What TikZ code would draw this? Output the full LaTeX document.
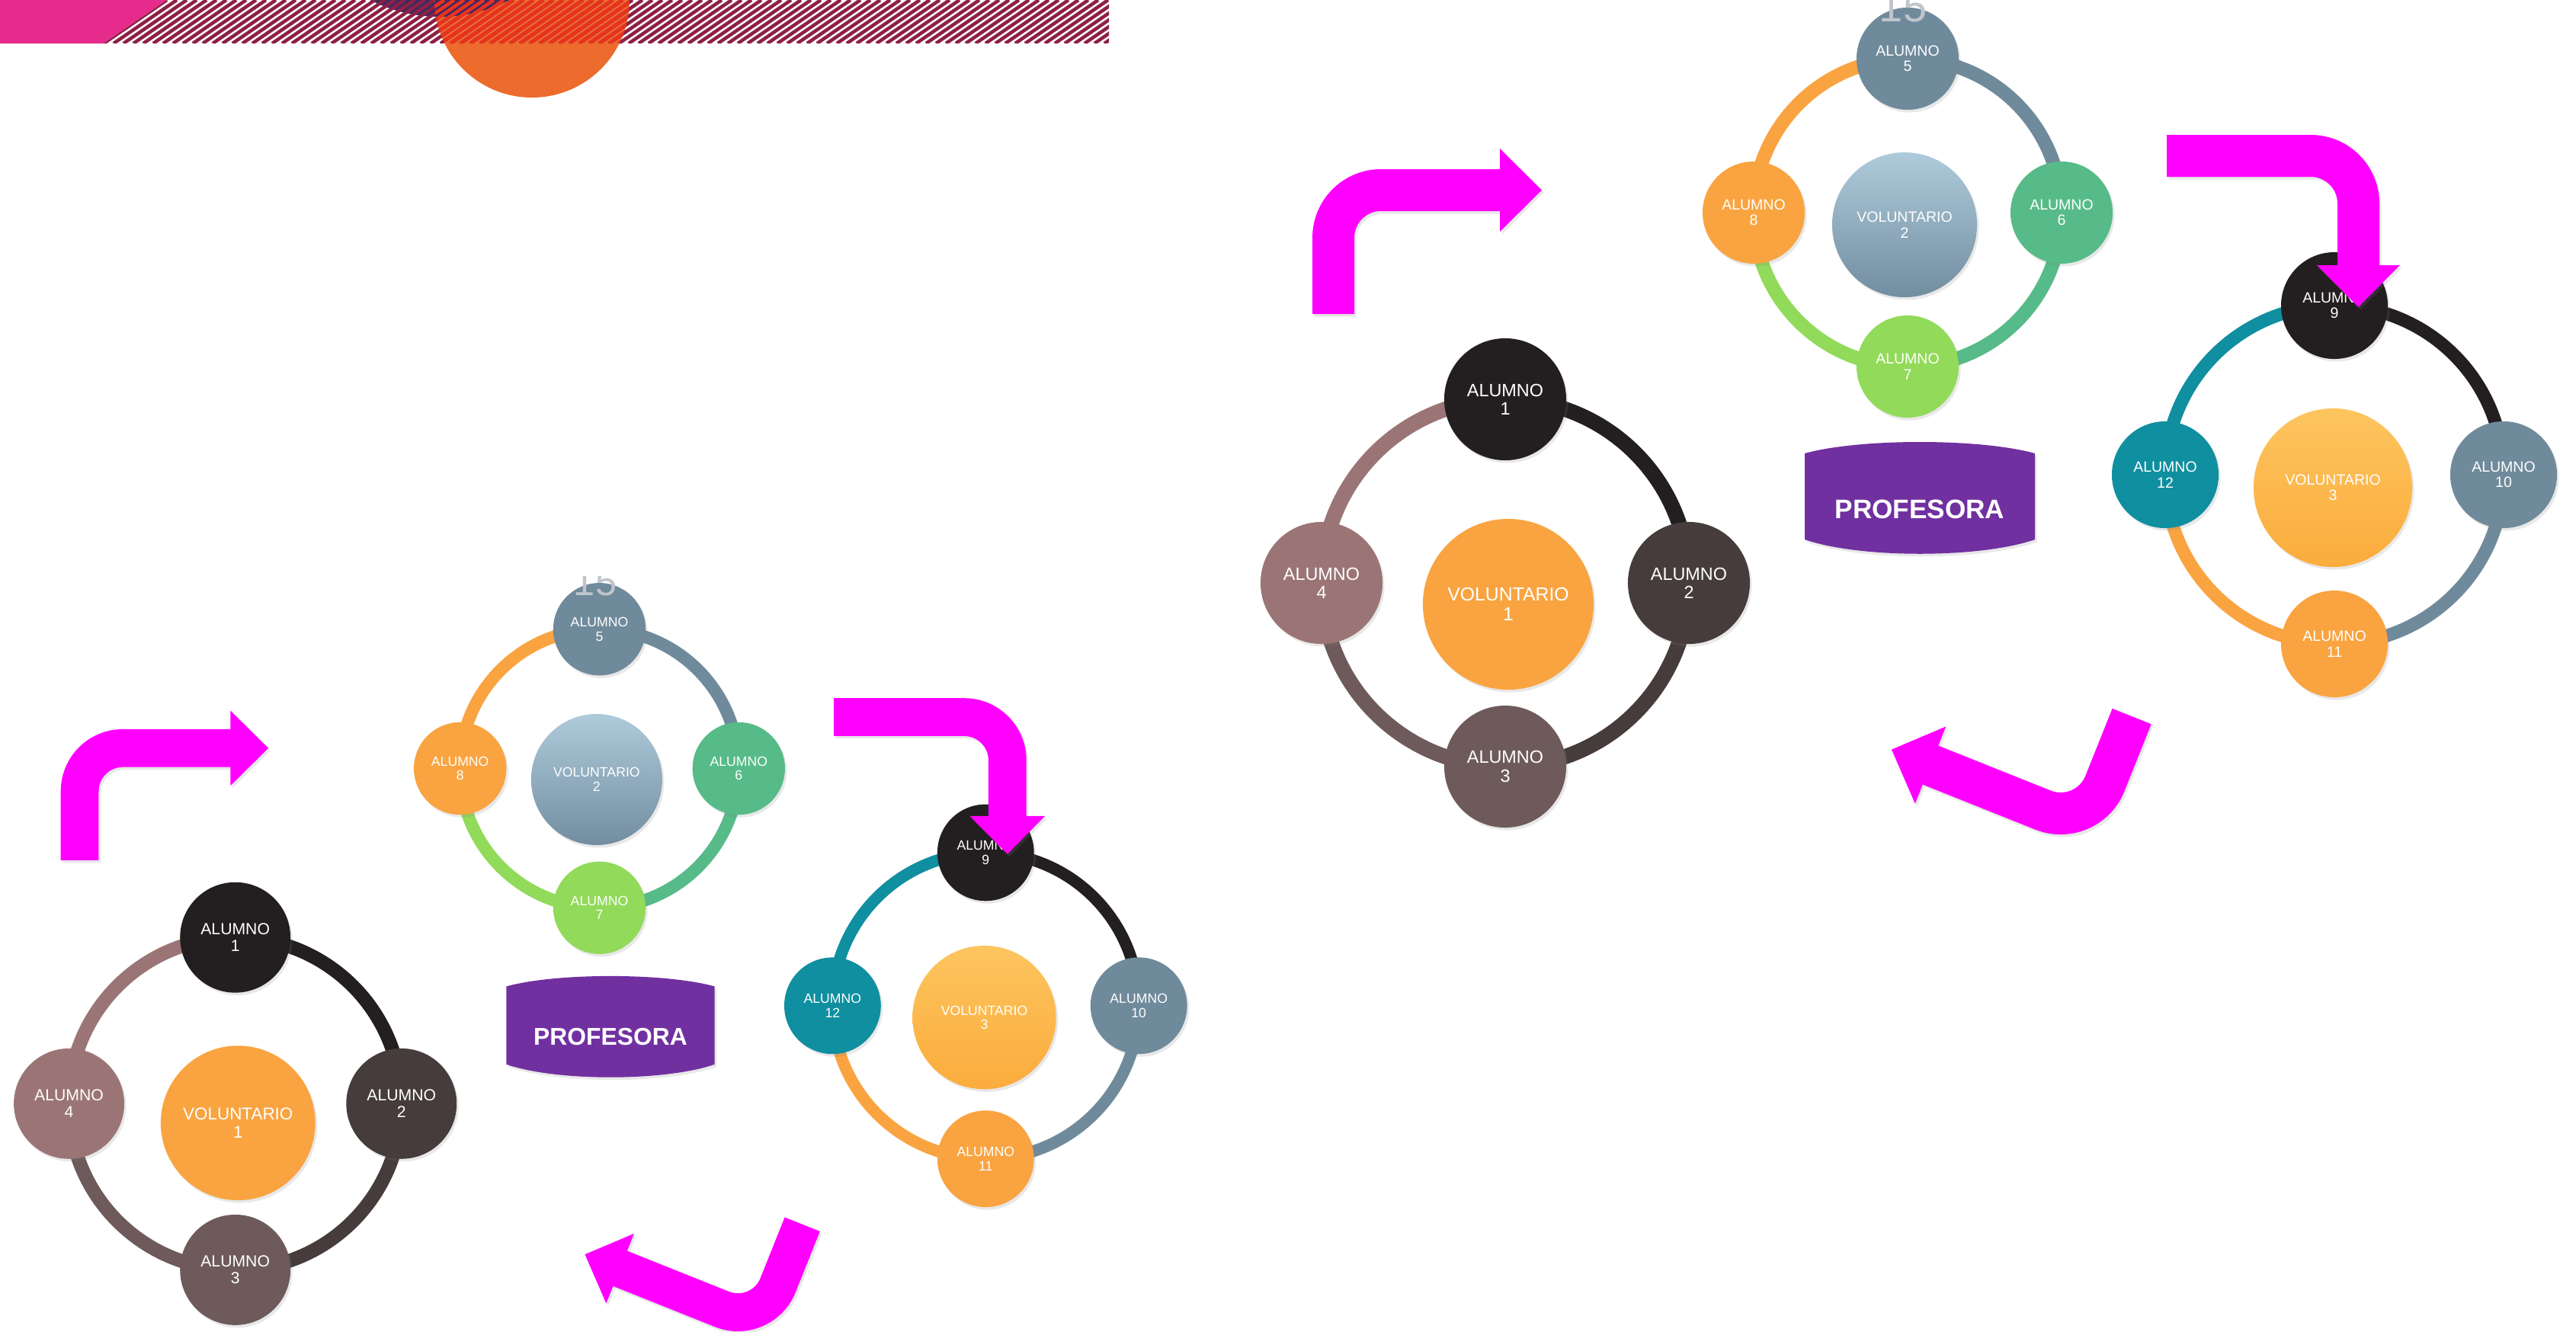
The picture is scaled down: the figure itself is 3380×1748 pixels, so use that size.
\documentclass[tikz,border=0pt]{standalone}
\usepackage{fontspec}
\setmainfont{Liberation Sans}
\usetikzlibrary{shadows}
\pgfdeclarelayer{background}
\pgfdeclarelayer{canvas}
\pgfsetlayers{canvas,background,main}

\definecolor{cBlack}{HTML}{231F20}
\definecolor{cDark}{HTML}{463C3C}
\definecolor{cTaupe}{HTML}{6E5A5A}
\definecolor{cRose}{HTML}{9B7575}
\definecolor{cOrange}{HTML}{F9A441}
\definecolor{cSlate}{HTML}{6F8A9B}
\definecolor{cGreen}{HTML}{56BB88}
\definecolor{cLime}{HTML}{92DA5A}
\definecolor{cTeal}{HTML}{0F8FA0}
\definecolor{vTwoT}{HTML}{AECBDB}
\definecolor{vTwoB}{HTML}{728DA0}
\definecolor{vThreeT}{HTML}{FDC55F}
\definecolor{vThreeB}{HTML}{FBAC3C}
\definecolor{cMag}{HTML}{FF00FF}
\definecolor{cProf}{HTML}{7130A0}
\definecolor{cPink}{HTML}{E52B8B}
\definecolor{cStripe}{HTML}{8E1F45}
\definecolor{cStripeRed}{HTML}{E8321F}
\definecolor{cDecoOr}{HTML}{EC6B2D}
\definecolor{cNavy}{HTML}{3A2B62}
\definecolor{cNum}{HTML}{BFC5CB}

\def\gsc{1}
\tikzset{
  basenode/.style={circle, inner sep=0pt, text=white, align=center},
  shad/.style={drop shadow={shadow xshift=0.025cm, shadow yshift=-0.035cm, opacity=0.18}},
  gAn/.style={basenode, minimum size=1.6cm, font=\fontsize{6.66}{6.9}\selectfont},
  gAv/.style={basenode, minimum size=2.24cm, font=\fontsize{7.05}{7.3}\selectfont},
  gBn/.style={basenode, minimum size=1.34cm, font=\fontsize{5.55}{5.8}\selectfont},
  gBv/.style={basenode, minimum size=1.9cm, font=\fontsize{5.55}{5.8}\selectfont},
  gCn/.style={basenode, minimum size=1.4cm, font=\fontsize{5.55}{5.8}\selectfont},
  gCv/.style={basenode, minimum size=2.08cm, font=\fontsize{5.55}{5.8}\selectfont},
  ringA/.style={line width=\gsc*0.20cm},
  ringB/.style={line width=\gsc*0.18cm},
  ringC/.style={line width=\gsc*0.17cm},
  magarrow/.style={fill=cMag, shad},
  proftext/.style={text=white, inner sep=0pt, font=\bfseries\fontsize{10}{12}\selectfont},
  numtext/.style={text=cNum, inner sep=0pt, font=\fontsize{15.9}{18}\selectfont},
}

% bent arrow: corner at origin, stem of length #1 downward, bar of length #2 to the right
\newcommand\bentpath[2]{(0,-#1) -- (0,-90) arc[start angle=180,end angle=90,radius=90]
  -- (#2,0) -- (#2,27) -- ({#2+55},-27.5) -- (#2,-82) -- (#2,-55) -- (90,-55)
  arc[start angle=90,end angle=180,radius=35] -- (55,-#1) -- cycle}

\newcommand\drawgroup[3]{%
\def\gsc{#2}%
\begin{scope}[shift={#3}, scale=#2, transform shape]
  % circle 1
  \node[gAn, fill=cBlack, shad] (#1-a1) at (1975,-524) {ALUMNO\\1};
  \node[gAn, fill=cDark,  shad] (#1-a2) at (2216,-765) {ALUMNO\\2};
  \node[gAn, fill=cTaupe, shad] (#1-a3) at (1975,-1006) {ALUMNO\\3};
  \node[gAn, fill=cRose,  shad] (#1-a4) at (1734,-765) {ALUMNO\\4};
  \node[gAv, fill=cOrange, shad] (#1-v1) at (1979,-793) {VOLUNTARIO\\1};
  % circle 2
  \node[gBn, fill=cSlate, shad] (#1-b5) at (2503,-77) {ALUMNO\\5};
  \node[gBn, fill=cGreen, shad] (#1-b6) at (2705,-279) {ALUMNO\\6};
  \node[gBn, fill=cLime,  shad] (#1-b7) at (2503,-481) {ALUMNO\\7};
  \node[gBn, fill=cOrange, shad] (#1-b8) at (2301,-279) {ALUMNO\\8};
  \node[gBv, top color=vTwoT, bottom color=vTwoB, shad] (#1-v2) at (2499,-295) {VOLUNTARIO\\2};
  % circle 3
  \node[gCn, fill=cBlack, shad] (#1-c9) at (3063,-401) {ALUMNO\\9};
  \node[gCn, fill=cSlate, shad] (#1-c10) at (3285,-623) {ALUMNO\\10};
  \node[gCn, fill=cOrange, shad] (#1-c11) at (3063,-845) {ALUMNO\\11};
  \node[gCn, fill=cTeal,  shad] (#1-c12) at (2841,-623) {ALUMNO\\12};
  \node[gCv, top color=vThreeT, bottom color=vThreeB, shad] (#1-v3) at (3061,-640) {VOLUNTARIO\\3};
  % rings
  \begin{pgfonlayer}{background}
    \draw[ringA, cBlack] (#1-a1.center) to[bend left=45] (#1-a2.center);
    \draw[ringA, cDark]  (#1-a2.center) to[bend left=45] (#1-a3.center);
    \draw[ringA, cTaupe] (#1-a3.center) to[bend left=45] (#1-a4.center);
    \draw[ringA, cRose]  (#1-a4.center) to[bend left=45] (#1-a1.center);
    \draw[ringB, cSlate] (#1-b5.center) to[bend left=45] (#1-b6.center);
    \draw[ringB, cGreen] (#1-b6.center) to[bend left=45] (#1-b7.center);
    \draw[ringB, cLime]  (#1-b7.center) to[bend left=45] (#1-b8.center);
    \draw[ringB, cOrange] (#1-b8.center) to[bend left=45] (#1-b5.center);
    \draw[ringC, cBlack] (#1-c9.center) to[bend left=45] (#1-c10.center);
    \draw[ringC, cSlate] (#1-c10.center) to[bend left=45] (#1-c11.center);
    \draw[ringC, cOrange] (#1-c11.center) to[bend left=45] (#1-c12.center);
    \draw[ringC, cTeal]  (#1-c12.center) to[bend left=45] (#1-c9.center);
  \end{pgfonlayer}
  % number at the top, clipped
  \begin{scope}
    \clip (2300,0) rectangle (2700,-200);
    \node[numtext, anchor=base] (#1-num) at (2497,-28) {15};
  \end{scope}
  % profesora
  \fill[cProf, shad] (2368,-595) .. controls (2440,-575) and (2598,-575) .. (2670,-595)
     -- (2670,-708) .. controls (2598,-733) and (2440,-733) .. (2368,-708) -- cycle;
  \node[proftext] (#1-prof) at (2519,-668) {PROFESORA};
  % arrows
  \fill[magarrow, shift={(1722,-222)}] \bentpath{190}{246};
  \fill[magarrow, shift={(3122,-177)}, rotate=-90] \bentpath{279}{171};
  \fill[magarrow, shift={(2754,-1122)}, rotate=158.2] \bentpath{185}{249};
\end{scope}}

\begin{document}
\begin{tikzpicture}[x=0.01cm, y=0.01cm]
\begin{pgfonlayer}{canvas}
\fill[white] (0,0) rectangle (3380,-1748);
\end{pgfonlayer}
\useasboundingbox (0,0) rectangle (3380,-1748);

% top-left decoration
\fill[cPink] (0,0) -- (219,0) -- (136,-57) -- (0,-57) -- cycle;
\fill[cDecoOr] (698,0) circle (128);
\fill[cNavy] (577,179) circle (201);
\begin{scope}
  \clip (219,0) -- (1455,0) -- (1455,-57) -- (136,-57) -- cycle;
  \foreach \i in {0,...,104} \draw[cStripe, line width=0.045cm] ({136+\i*13},-57) -- ++(83,57);
\end{scope}
\begin{scope}
  \clip (219,0) -- (1455,0) -- (1455,-57) -- (136,-57) -- cycle;
  \clip (698,0) circle (128);
  \foreach \i in {0,...,104} \draw[cStripeRed, line width=0.045cm] ({136+\i*13},-57) -- ++(83,57);
\end{scope}

\drawgroup{R}{1}{(0,0)}
\drawgroup{L}{0.905}{(-1478.7,-756)}
\end{tikzpicture}
\end{document}
